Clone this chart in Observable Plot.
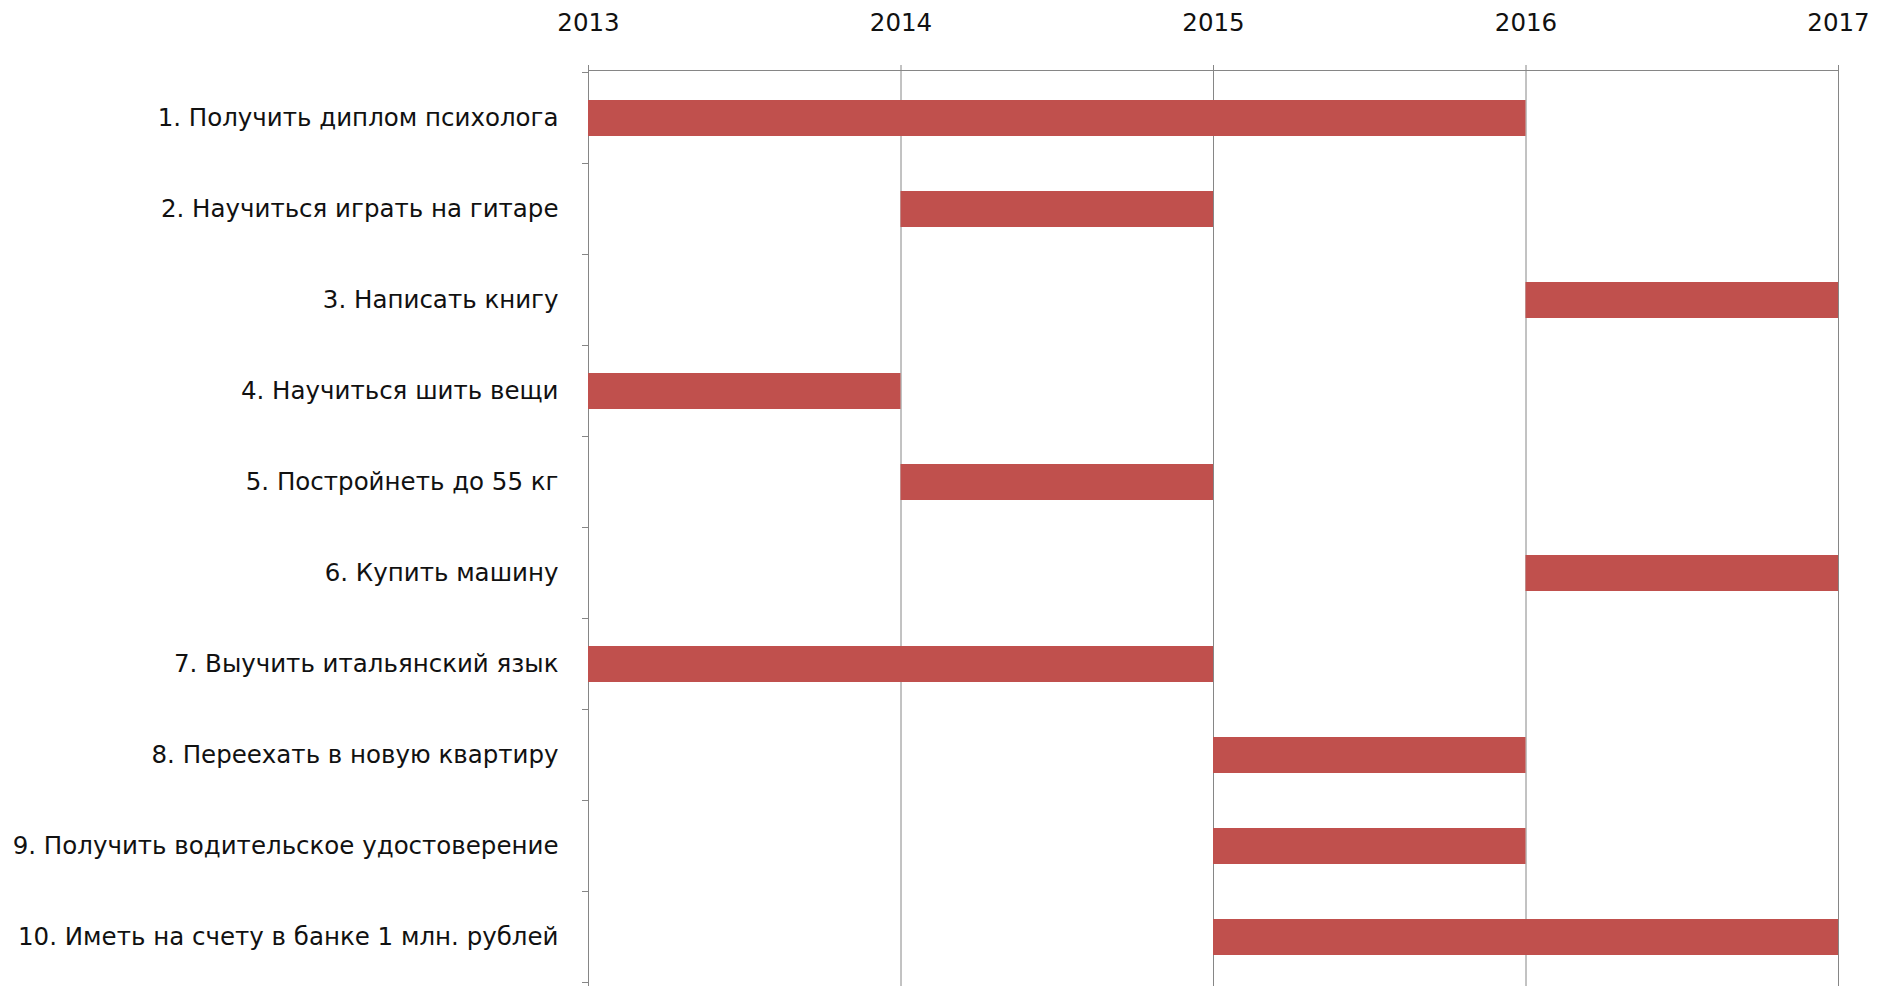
<!DOCTYPE html>
<html><head><meta charset="utf-8">
<script src="https://cdn.jsdelivr.net/npm/d3@7"></script>
<script src="https://cdn.jsdelivr.net/npm/@observablehq/plot@0.6"></script>
<style>body{margin:0;background:#fff}</style>
</head><body><div id="chart"></div>
<script>
const tasks = [
  "1. Получить диплом психолога",
  "2. Научиться играть на гитаре",
  "3. Написать книгу",
  "4. Научиться шить вещи",
  "5. Постройнеть до 55 кг",
  "6. Купить машину",
  "7. Выучить итальянский язык",
  "8. Переехать в новую квартиру",
  "9. Получить водительское удостоверение",
  "10. Иметь на счету в банке 1 млн. рублей"
];
const starts = [2013, 2014, 2016, 2013, 2014, 2016, 2013, 2015, 2015, 2015];
const ends   = [2016, 2015, 2017, 2014, 2015, 2017, 2015, 2016, 2016, 2017];
const years  = [2013, 2014, 2015, 2016, 2017];

const data = tasks.map((t, i) => ({task: t, start: starts[i], end: ends[i]}));
const gridColor = "#868686";

function frameLines(index, scales, values, dimensions) {
  const y = scales.y, x = scales.x;
  const bw = y.bandwidth();
  const step = typeof y.step === "function" ? y.step() : bw / 0.4;
  const g = d3.create("svg:g").attr("stroke", gridColor).attr("stroke-width", 1);
  const x0 = x(years[0]);
  g.append("line").attr("x1", x0).attr("x2", x(years[years.length - 1]))
    .attr("y1", dimensions.marginTop + 0.5).attr("y2", dimensions.marginTop + 0.5);
  const bounds = tasks.map(t => y(t) + bw / 2 - step / 2);
  bounds.push(y(tasks[tasks.length - 1]) + bw / 2 + step / 2);
  bounds.forEach(b => {
    g.append("line").attr("x1", x0 - 6).attr("x2", x0).attr("y1", b).attr("y2", b);
  });
  return g.node();
}

const chart = Plot.plot({
  width: 1881, height: 986,
  marginLeft: 588, marginRight: 43, marginTop: 70, marginBottom: 0,
  style: {fontFamily: "DejaVu Sans", fontSize: "24.5px", color: "#111", background: "#fff"},
  x: {domain: [2013, 2017], axis: null},
  y: {domain: tasks, paddingInner: 0.6, paddingOuter: 0.3, axis: null},
  marks: [
    Plot.ruleX(years, {stroke: gridColor, strokeWidth: 1}),
    Plot.barX(data, {x1: "start", x2: "end", y: "task", fill: "#C0504D"}),
    Plot.axisX(years, {anchor: "top", tickFormat: "d", tickSize: 6, tickPadding: 34, stroke: gridColor, fill: "#111", label: null}),
    Plot.axisY({anchor: "left", tickSize: 0, tickPadding: 30, fill: "#111", label: null}),
    frameLines
  ]
});
document.getElementById("chart").append(chart);
</script>
</body></html>
